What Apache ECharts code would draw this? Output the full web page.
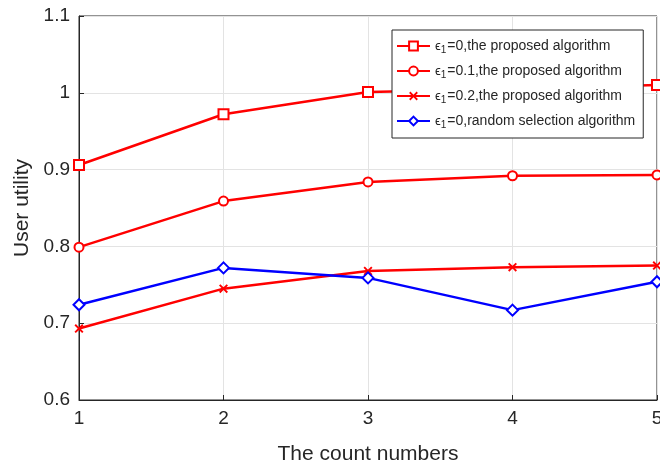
<!DOCTYPE html>
<html><head><meta charset="utf-8">
<script src="https://cdn.jsdelivr.net/npm/echarts@6/dist/echarts.min.js"></script>
<style>html,body{margin:0;padding:0;background:#fff}#c{width:660px;height:469px}</style>
</head><body><div id="c"></div>
<script>
const xValues = [1, 2, 3, 4, 5];
const s1 = [0.906, 0.972, 1.001, 1.005, 1.010];
const s2 = [0.799, 0.859, 0.884, 0.892, 0.893];
const s3 = [0.693, 0.745, 0.768, 0.773, 0.775];
const s4 = [0.724, 0.772, 0.759, 0.717, 0.754];
const names = ['eps0', 'eps01', 'eps02', 'rand0'];
const legendText = {
  eps0: '{e|ϵ}{s|1}{t|=0,the proposed algorithm}',
  eps01: '{e|ϵ}{s|1}{t|=0.1,the proposed algorithm}',
  eps02: '{e|ϵ}{s|1}{t|=0.2,the proposed algorithm}',
  rand0: '{e|ϵ}{s|1}{t|=0,random selection algorithm}'
};
const xPath = 'path://M0,1.5L1.5,0L5,3.5L8.5,0L10,1.5L6.5,5L10,8.5L8.5,10L5,6.5L1.5,10L0,8.5L3.5,5Z';
const pair = a => a.map((v, i) => [xValues[i], v]);
const font = 'Liberation Sans, Arial, sans-serif';
const txt = '#262626';
const chart = echarts.init(document.getElementById('c'));
const mk = (name, data, color, symbol, size) => ({
  name, type: 'line', data: pair(data), symbol, symbolSize: size,
  lineStyle: { color, width: 2.5 },
  itemStyle: { color, borderColor: color, borderWidth: 2 },
  z: 3
});
chart.setOption({
  animation: false,
  grid: { left: 79, right: 3, top: 16, bottom: 69, show: true, borderColor: txt, borderWidth: 1,
          outerBoundsMode: 'none', containLabel: false },
  legend: {
    orient: 'vertical', left: 392, top: 30, padding: [9, 8, 8, 4],
    itemWidth: 33, itemHeight: 11, itemGap: 9,
    backgroundColor: '#fff', borderColor: txt, borderWidth: 1,
    formatter: n => legendText[n],
    textStyle: {
      fontFamily: font, fontSize: 14, color: txt,
      rich: {
        e: { fontFamily: font, fontSize: 13, color: txt },
        s: { fontFamily: font, fontSize: 10, color: txt, padding: [8, 1, 0, 0] },
        t: { fontFamily: font, fontSize: 14, color: txt }
      }
    },
    data: names
  },
  xAxis: {
    type: 'value', min: 1, max: 5, interval: 1,
    name: 'The count numbers', nameLocation: 'middle', nameGap: 44,
    nameTextStyle: { fontFamily: font, fontSize: 21, color: txt },
    axisLine: { show: true, lineStyle: { color: txt } },
    axisTick: { show: true, inside: true, length: 5, lineStyle: { color: txt } },
    axisLabel: { fontFamily: font, fontSize: 19, color: txt, margin: 9 },
    splitLine: { show: true, lineStyle: { color: '#e3e3e3' } }
  },
  yAxis: {
    type: 'value', min: 0.6, max: 1.1, interval: 0.1,
    name: 'User utility', nameLocation: 'middle', nameGap: 46,
    nameTextStyle: { fontFamily: font, fontSize: 21, color: txt },
    axisLine: { show: true, lineStyle: { color: txt } },
    axisTick: { show: true, inside: true, length: 5, lineStyle: { color: txt } },
    axisLabel: { fontFamily: font, fontSize: 19, color: txt, margin: 9,
      formatter: v => String(parseFloat(v.toFixed(1))) },
    splitLine: { show: true, lineStyle: { color: '#e3e3e3' } }
  },
  series: [
    mk('eps0', s1, '#ff0000', 'emptyRect', 10),
    mk('eps01', s2, '#ff0000', 'emptyCircle', 9),
    Object.assign(mk('eps02', s3, '#ff0000', xPath, 9), { itemStyle: { color: '#ff0000', borderWidth: 0 } }),
    mk('rand0', s4, '#0000ff', 'emptyDiamond', 11)
  ]
});
</script></body></html>
